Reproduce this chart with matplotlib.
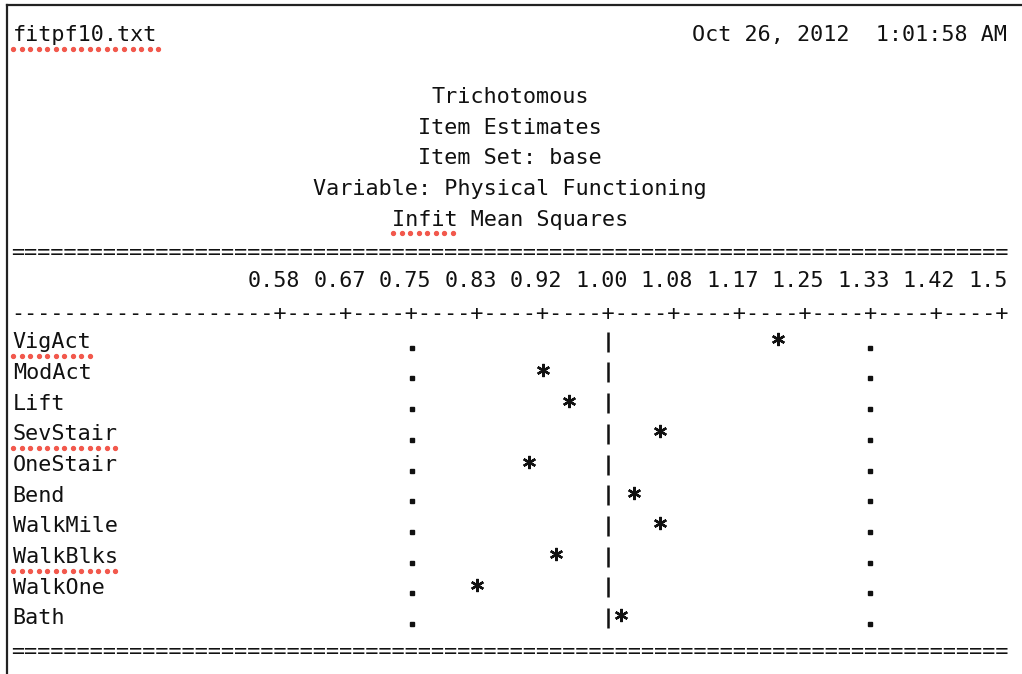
import matplotlib.pyplot as plt
import matplotlib.transforms as mtransforms
import numpy as np

items = ['VigAct', 'ModAct', 'Lift', 'SevStair', 'OneStair',
         'Bend', 'WalkMile', 'WalkBlks', 'WalkOne', 'Bath']
infit = [1.22, 0.92, 0.95, 1.07, 0.90, 1.03, 1.07, 0.93, 0.83, 1.02]
tick_labels = ['0.58', '0.67', '0.75', '0.83', '0.92', '1.00',
               '1.08', '1.17', '1.25', '1.33', '1.42', '1.5']
center_value = 1.00
bound_values = [0.75, 1.33]

header_left = 'fitpf10.txt'
header_right = 'Oct 26, 2012  1:01:58 AM'
titles = ['Trichotomous', 'Item Estimates', 'Item Set: base',
          'Variable: Physical Functioning', 'Infit Mean Squares']
spell_marked = ['fitpf10.txt', 'Infit', 'VigAct', 'SevStair', 'WalkBlks']

# text grid: 76 columns, one column = 1/60 of infit, column 45 = 1.00
NCOL = 76
COL0 = 15


def col_x(c):
    return (np.asarray(c, dtype=float) + COL0) / 60.0


def snap(v):
    return round(v * 60) / 60.0


plt.rcParams['font.family'] = ['DejaVu Sans Mono']
fig = plt.figure(figsize=(10.22, 6.74), dpi=100)
ax = fig.add_axes([0, 0, 1, 1])
ax.axis('off')
ax.set_xlim(0.2264, 1.5267)   # 1 infit unit = 786 px, 1.00 at x=608 px
ax.set_ylim(20.828, -1.1408)  # one listing line = 30.68 px, line 0 at y=35 px


def shifted(dy):
    # move down by dy pixels
    return mtransforms.offset_copy(ax.transData, fig=fig, x=0, y=-dy, units='dots')


base = shifted(6.5)
rule = shifted(9)
mono = dict(fontsize=15.67, color='#111111')

# header
ax.text(col_x(-0.45), 0, header_left, ha='left', transform=base, **mono)
ax.text(col_x(NCOL - 0.55), 0, header_right, ha='right', transform=base, **mono)

for k, t in enumerate(titles):
    ax.text(col_x(37.5), 2 + k, t, ha='center', transform=base, **mono)

ax.text(col_x(37.5), 7, '=' * NCOL, ha='center', transform=rule, **mono)

# scale
tick_pos = [snap(float(t)) for t in tick_labels]
for lab, t in zip(tick_labels, tick_pos):
    ax.text(t + ((len(lab) - 1) / 2 - 2) / 60.0, 8, lab, ha='center',
            transform=base, **mono)

scale = ['-'] * NCOL
for t in tick_pos:
    scale[int(round(t * 60)) - COL0] = '+'
ax.text(col_x(37.5), 9, ''.join(scale), ha='center', transform=rule, **mono)

# item rows
rows = np.arange(len(items)) + 10
for name, r in zip(items, rows):
    ax.text(col_x(-0.45), r, name, ha='left', transform=base, **mono)

ax.plot([snap(center_value)] * len(rows), rows, ls='none', marker='|',
        ms=14.4, mew=1.8, color='#111111')
for b in bound_values:
    ax.plot([snap(b)] * len(rows), rows, ls='none', marker='s', ms=2.6,
            color='#111111', transform=shifted(6))
ax.plot([snap(v) for v in infit], rows, ls='none', marker=(6, 2, 0), ms=9.5,
        mew=1.7, color='#111111', transform=shifted(-2.5))

ax.text(col_x(37.5), 20, '=' * NCOL, ha='center', transform=rule, **mono)


# red spell-check dots
def spell_mark(c0, n, line):
    xs = np.arange(c0 - 0.4, c0 + n - 0.2, 0.65)
    ax.plot(col_x(xs), [line] * len(xs), ls='none', marker='o', ms=2.8,
            color='#f2584c', transform=shifted(14))


spell_mark(0, len(header_left), 0)
infit_title = titles[-1]
spell_mark(38 - len(infit_title) // 2, len('Infit'), 6)
for name, r in zip(items, rows):
    if name in spell_marked:
        spell_mark(0, len(name), r)

# window frame (top and left)
fig.add_artist(plt.Line2D([7 / 1022, 1], [1 - 5 / 674] * 2,
                          transform=fig.transFigure, color='#222222', lw=1.6))
fig.add_artist(plt.Line2D([7 / 1022] * 2, [0, 1 - 5 / 674],
                          transform=fig.transFigure, color='#222222', lw=1.6))

fig.savefig('out.png', dpi=100, facecolor='white')
